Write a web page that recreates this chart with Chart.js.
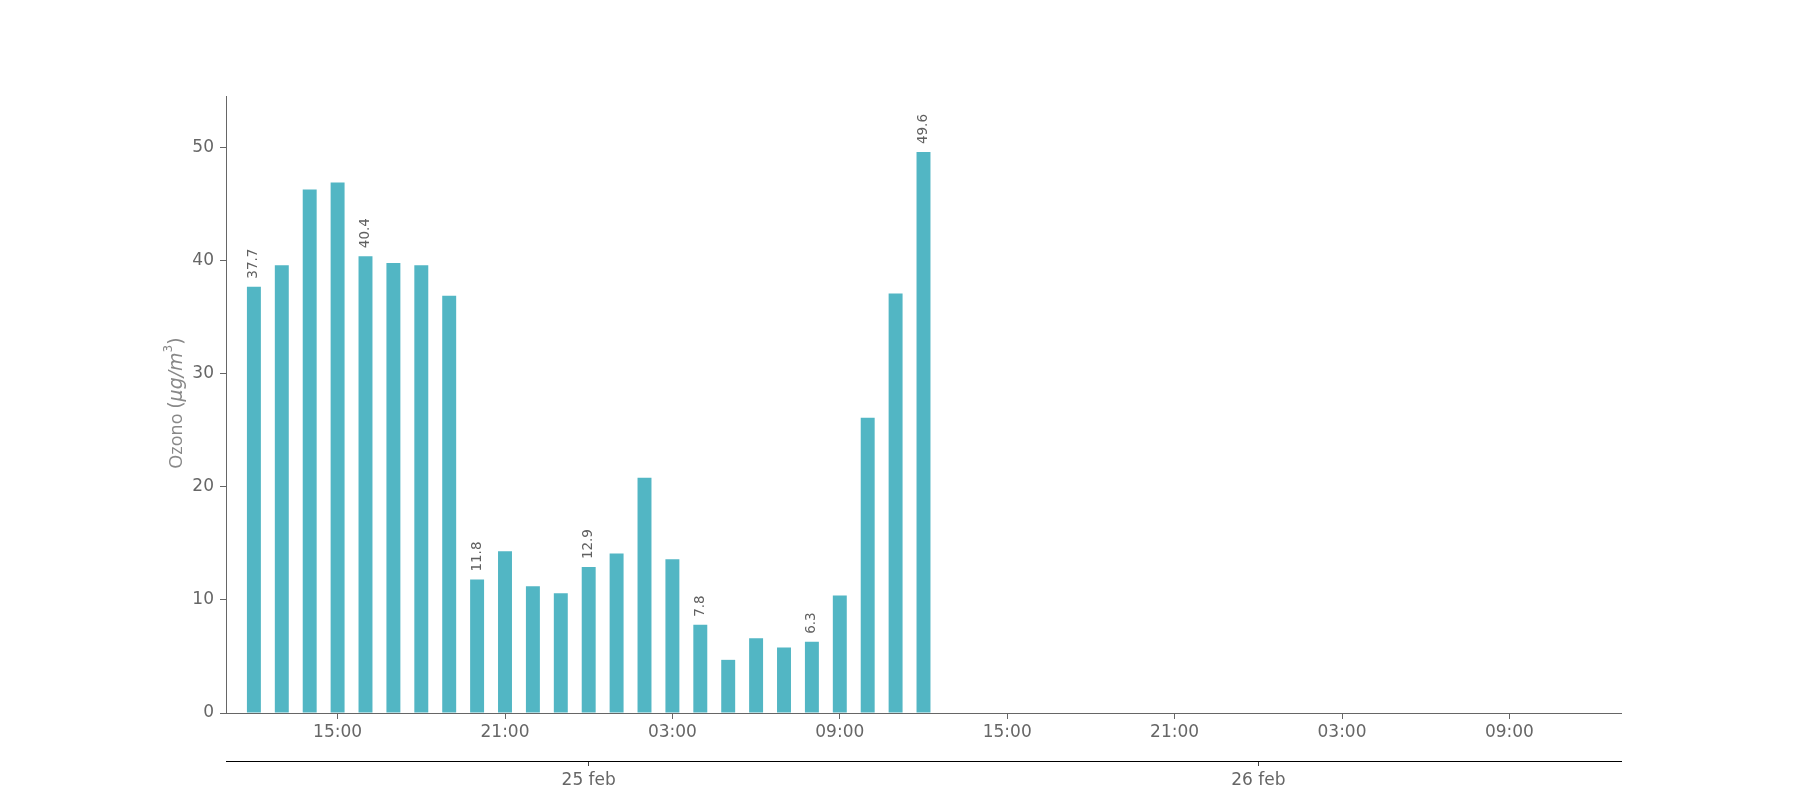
<!DOCTYPE html>
<html>
<head>
<meta charset="utf-8">
<script src="https://cdn.jsdelivr.net/npm/chart.js@4"></script>
<style>
  html, body { margin: 0; padding: 0; background: #fff; }
  canvas { display: block; }
</style>
</head>
<body>
<canvas id="ozoneChart" width="1800" height="800"></canvas>
<script>
// hours counted from 24 feb 12:00
const hours = [0, 1, 2, 3, 4, 5, 6, 7, 8, 9, 10, 11, 12, 13, 14, 15, 16, 17, 18, 19, 20, 21, 22, 23, 24];
const ozone = [37.7, 39.6, 46.3, 46.9, 40.4, 39.8, 39.6, 36.9, 11.8, 14.3, 11.2, 10.6, 12.9, 14.1, 20.8, 13.6, 7.8, 4.7, 6.6, 5.8, 6.3, 10.4, 26.1, 37.1, 49.6];

const hourTicks = [3, 9, 15, 21, 27, 33, 39, 45];
const hourLabels = ['15:00', '21:00', '03:00', '09:00', '15:00', '21:00', '03:00', '09:00'];
const dayTicks = [12, 36];
const dayLabels = ['25 feb', '26 feb'];

const xMin = -1, xMax = 49;
const yMax = 54.56;
const labelEvery = 4;

const barColor = '#52b6c4';
const textColor = '#666666';
const fontFamily = '"DejaVu Sans", sans-serif';

// value labels above every 4th bar, rotated
const barLabels = {
    id: 'barLabels',
    afterDatasetsDraw(chart) {
        const ctx = chart.ctx;
        const meta = chart.getDatasetMeta(0);
        ctx.save();
        ctx.fillStyle = '#606060';
        ctx.font = '13.5px ' + fontFamily;
        ctx.textAlign = 'left';
        ctx.textBaseline = 'middle';
        meta.data.forEach((el, i) => {
            if (i % labelEvery !== 0) return;
            ctx.save();
            ctx.translate(el.x, el.y - 8);
            ctx.rotate(-Math.PI / 2);
            ctx.fillText(ozone[i].toFixed(1), 0, 0);
            ctx.restore();
        });
        ctx.restore();
    }
};

// y title with italic unit and superscript
const yTitle = {
    id: 'yTitle',
    afterDraw(chart) {
        const ctx = chart.ctx;
        const parts = [
            { t: 'Ozono ', f: '18px "Open Sans", ' + fontFamily, dy: 0 },
            { t: '(', f: '19px ' + fontFamily, dy: 0 },
            { t: 'μg/m', f: 'italic 19px ' + fontFamily, dy: 0 },
            { t: '3', f: '12px ' + fontFamily, dy: -8 },
            { t: ')', f: '19px ' + fontFamily, dy: 0 }
        ];
        ctx.save();
        let total = 0;
        parts.forEach(p => { ctx.font = p.f; p.w = ctx.measureText(p.t).width; total += p.w; });
        ctx.translate(177, 403);
        ctx.rotate(-Math.PI / 2);
        ctx.fillStyle = '#888888';
        ctx.textBaseline = 'middle';
        ctx.textAlign = 'left';
        let x = -total / 2;
        parts.forEach(p => {
            ctx.font = p.f;
            ctx.fillText(p.t, x, p.dy);
            x += p.w;
        });
        ctx.restore();
    }
};

const ctx = document.getElementById('ozoneChart').getContext('2d');
const ozoneChart = new Chart(ctx, {
    type: 'bar',
    data: {
        datasets: [{
            label: 'Ozono',
            data: hours.map((h, i) => ({ x: h, y: ozone[i] })),
            backgroundColor: barColor,
            borderWidth: 0,
            barPercentage: 0.5,
            categoryPercentage: 1.0
        }]
    },
    options: {
        responsive: false,
        animation: false,
        layout: { padding: { left: 161, right: 179, top: 96, bottom: 0 } },
        plugins: {
            legend: { display: false },
            tooltip: { enabled: false }
        },
        scales: {
            x: {
                type: 'linear',
                position: 'bottom',
                weight: 0,
                min: xMin,
                max: xMax,
                offset: false,
                afterBuildTicks: s => { s.ticks = hourTicks.map(v => ({ value: v })); },
                afterFit: s => { s.height = 48; },
                grid: { display: true, drawOnChartArea: false, offset: false, tickLength: 6, tickColor: textColor },
                border: { display: true, color: textColor, width: 1 },
                ticks: {
                    autoSkip: false,
                    maxRotation: 0,
                    padding: 3,
                    color: textColor,
                    font: { family: fontFamily, size: 17 },
                    callback: (v, i) => hourLabels[i]
                }
            },
            x2: {
                type: 'linear',
                position: 'bottom',
                weight: 1,
                min: xMin,
                max: xMax,
                offset: false,
                afterBuildTicks: s => { s.ticks = dayTicks.map(v => ({ value: v })); },
                afterFit: s => { s.height = 39; },
                grid: { display: true, drawOnChartArea: false, offset: false, tickLength: 5, tickColor: '#444444' },
                border: { display: true, color: '#000000', width: 1 },
                ticks: {
                    autoSkip: false,
                    maxRotation: 0,
                    padding: 4,
                    color: textColor,
                    font: { family: fontFamily, size: 17 },
                    callback: (v, i) => dayLabels[i]
                }
            },
            y: {
                min: 0,
                max: yMax,
                afterFit: s => { s.width = 65; },
                grid: { display: true, drawOnChartArea: false, tickLength: 6, tickColor: textColor },
                border: { display: true, color: textColor, width: 1 },
                ticks: {
                    stepSize: 10,
                    includeBounds: false,
                    padding: 6,
                    color: textColor,
                    font: { family: fontFamily, size: 17 }
                },
                title: { display: false }
            }
        }
    },
    plugins: [barLabels, yTitle]
});
</script>
</body>
</html>
